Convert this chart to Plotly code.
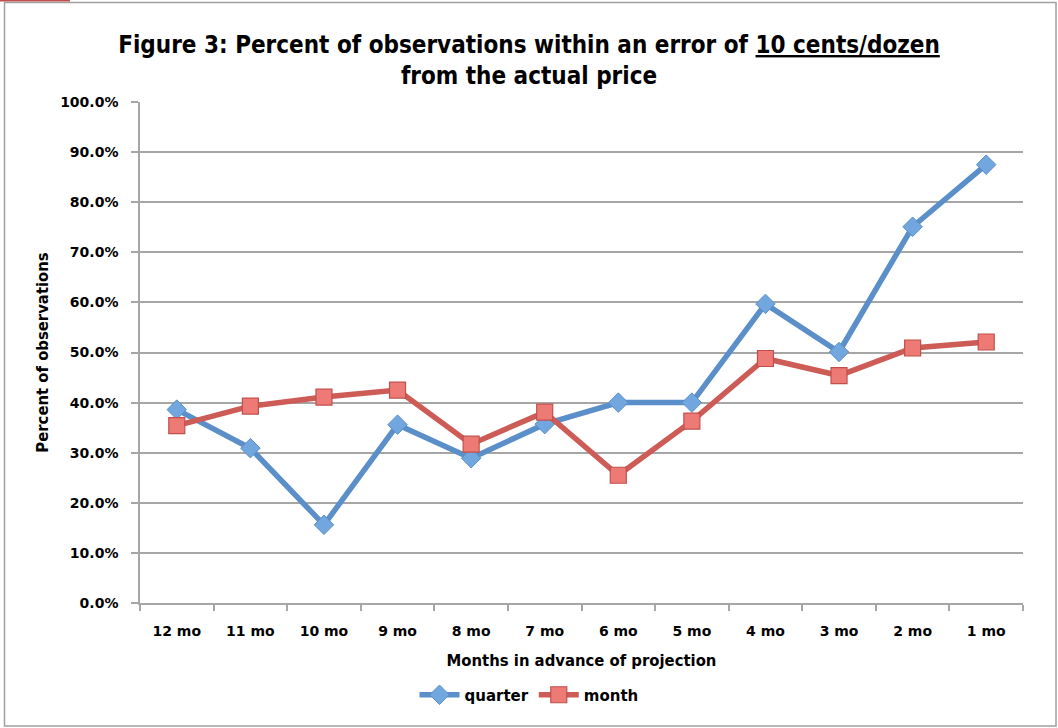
import plotly.graph_objects as go

categories = ["12 mo", "11 mo", "10 mo", "9 mo", "8 mo", "7 mo",
              "6 mo", "5 mo", "4 mo", "3 mo", "2 mo", "1 mo"]
quarter = [38.6, 30.9, 15.6, 35.6, 28.9, 35.7, 40.0, 40.0, 59.7, 50.1, 75.1, 87.5]
month = [35.4, 39.3, 41.1, 42.5, 31.7, 38.1, 25.5, 36.3, 48.8, 45.4, 50.9, 52.1]

W, H = 1058, 728
L, R, T, B = 140, 35, 102, 125
pw, ph = W - L - R, H - T - B

def px_x(p):
    return (p - L) / pw

def px_y(p):
    return (H - B - p) / ph

grid = "#a6a6a6"
blue_line = "#5b8fc9"
blue_fill = "#72a6de"
red_line = "#cd5b56"
red_fill = "#ee7a75"
bold_sans = "DejaVu Sans"
calibri_like = "Liberation Sans Narrow, DejaVu Sans Condensed, sans-serif"

fig = go.Figure()
fig.add_trace(go.Scatter(
    x=categories, y=quarter, name="quarter", mode="lines+markers",
    line=dict(color=blue_line, width=5.5),
    marker=dict(symbol="diamond", size=15, color=blue_fill,
                line=dict(color=blue_line, width=1)),
))
fig.add_trace(go.Scatter(
    x=categories, y=month, name="month", mode="lines+markers",
    line=dict(color=red_line, width=5.5),
    marker=dict(symbol="square", size=16, color=red_fill,
                line=dict(color="#c0504d", width=1.2)),
))

fig.update_layout(
    width=W, height=H, autosize=False,
    margin=dict(l=L, r=R, t=T, b=B, pad=0),
    paper_bgcolor="white", plot_bgcolor="white",
    title=dict(
        text="<b>Figure 3: Percent of observations within an error of <u>10 cents/dozen</u><br>from the actual price</b>",
        x=0.5, xref="container", xanchor="center",
        y=1 - 53 / H, yref="container", yanchor="middle",
        font=dict(family=calibri_like, size=24, color="black"),
    ),
    showlegend=True,
    legend=dict(
        orientation="h", x=0.5, xanchor="center", xref="container",
        y=1 - 695 / H, yanchor="middle", yref="container",
        font=dict(family=bold_sans, size=15, color="black", weight="bold"),
        itemwidth=40, tracegroupgap=0,
    ),
    shapes=[
        dict(type="rect", xref="paper", yref="paper",
             x0=px_x(4.5), x1=px_x(1056), y0=px_y(726), y1=px_y(2.5),
             line=dict(color="#a0a0a0", width=1.5), fillcolor="rgba(0,0,0,0)",
             layer="below"),
        dict(type="line", xref="paper", yref="paper",
             x0=px_x(0), x1=px_x(70), y0=px_y(0.5), y1=px_y(0.5),
             line=dict(color="#c0504d", width=2)),
    ],
)

fig.update_xaxes(
    type="category", tickson="boundaries",
    range=[-0.5, len(categories) - 0.5], autorange=False,
    ticks="outside", ticklen=6, tickcolor=grid, tickwidth=1.5,
    showline=True, linecolor=grid, linewidth=1.5,
    showgrid=False, zeroline=False,
    tickfont=dict(family=bold_sans, size=14, color="black", weight="bold"),
    ticklabelstandoff=14,
    title=dict(text="<b>Months in advance of projection</b>",
               font=dict(family=calibri_like, size=16.5, color="black"),
               standoff=17),
)
fig.update_yaxes(
    range=[0, 100], dtick=10, tick0=0,
    ticksuffix="%", tickformat=".1f",
    ticks="outside", ticklen=7, tickcolor=grid, tickwidth=1.5,
    showline=True, linecolor=grid, linewidth=1.5,
    showgrid=True, gridcolor=grid, gridwidth=1.5,
    zeroline=False,
    tickfont=dict(family=bold_sans, size=14, color="black", weight="bold"),
    ticklabelstandoff=10,
    title=dict(text="<b>Percent of observations</b>",
               font=dict(family=calibri_like, size=16.5, color="black"),
               standoff=7),
)

fig.write_html("out.html", config={"displayModeBar": False},
               post_script="document.body.style.margin='0';")
